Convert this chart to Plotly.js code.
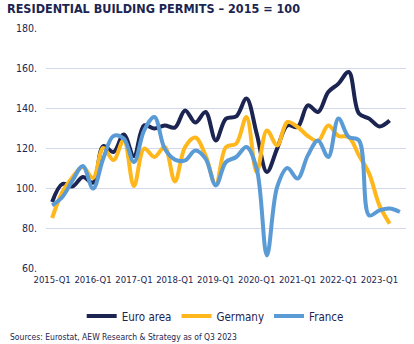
<!DOCTYPE html>
<html>
<head>
<meta charset="utf-8">
<script src="https://cdn.plot.ly/plotly-3.0.1.min.js"></script>
<style>
html,body{margin:0;padding:0;background:#fff;}
#chart{width:414px;height:344px;}
</style>
</head>
<body>
<div id="chart"></div>
<script>
// Quarters 2015-Q1 .. 2023-Q3
const quarters = [];
for (let y = 2015; y <= 2023; y++) {
  for (let q = 1; q <= 4; q++) {
    if (y === 2023 && q > 3) break;
    quarters.push(y + '-Q' + q);
  }
}
const tickLabels = ['2015-Q1','2016-Q1','2017-Q1','2018-Q1','2019-Q1','2020-Q1','2021-Q1','2022-Q1','2023-Q1'];
const yTicks = [60, 80, 100, 120, 140, 160, 180];

const euroArea = [93, 102, 100.8, 105.5, 102.7, 121, 118, 126.7, 116, 131.3, 129.7, 131.3, 130.2, 138.8, 132.7, 138, 123.8, 134.7, 135.8, 144.7, 127.2, 108, 119.7, 131.3, 130.5, 141.3, 138, 148, 152.2, 158, 137.2, 134.7, 130.8, 133.8];
const germany = [85, 98, 105.5, 110.5, 105, 120, 114, 124, 101, 119.7, 115.5, 120.5, 103.3, 120.5, 125.2, 116.3, 101.7, 120.5, 122.2, 135.5, 108, 128.8, 121.3, 133, 130.5, 126, 123.5, 131.3, 126, 125.5, 116.3, 107.2, 91.3, 82.2];
const france = [91.3, 95.5, 103.8, 111, 99.7, 114.7, 126, 124.7, 113, 128.8, 135.5, 119.7, 114.2, 113.8, 118.8, 114.7, 101.3, 113, 115.5, 120.5, 109.7, 66.3, 100.5, 110, 104.7, 116.3, 123.8, 115.5, 134.7, 125.5, 123.8, 86.3, 88.8, 89.7, 88];

const seriesNames = ['Euro area', 'Germany', 'France'];
const seriesData = [euroArea, germany, france];
const seriesColors = ['#1c2551', '#ffb71b', '#5b9bd5'];

const FONT = '"Liberation Sans Narrow", "DejaVu Sans Condensed", "Roboto Condensed", "Arial Narrow", sans-serif';
const TEXT = '#1c2551';

const traces = seriesNames.map((name, k) => ({
  type: 'scatter',
  mode: 'lines',
  name: name,
  x: quarters.slice(0, seriesData[k].length),
  y: seriesData[k],
  line: {color: seriesColors[k], width: 4, shape: 'spline', smoothing: 1},
  hoverinfo: 'skip'
}));

const layout = {
  width: 414,
  height: 344,
  margin: {l: 46, r: 8, t: 28, b: 76},
  paper_bgcolor: '#ffffff',
  plot_bgcolor: '#ffffff',
  font: {family: FONT, color: TEXT, size: 10},
  title: {
    text: '<b>RESIDENTIAL BUILDING PERMITS – 2015 = 100</b>',
    font: {family: FONT, size: 12.5, color: TEXT},
    x: 7 / 414, xref: 'container', xanchor: 'left',
    y: 1 - 9 / 344, yref: 'container', yanchor: 'middle'
  },
  xaxis: {
    type: 'category',
    range: [-0.6, 34.6],
    tickmode: 'array',
    tickvals: tickLabels,
    ticktext: tickLabels,
    tickangle: 0,
    showgrid: false,
    zeroline: false,
    showline: false,
    ticks: '',
    tickfont: {family: FONT, size: 9.5, color: TEXT},
    ticklabelstandoff: 4
  },
  yaxis: {
    range: [60, 180],
    tickmode: 'array',
    tickvals: yTicks,
    ticktext: yTicks.map(v => v + '.'),
    showgrid: true,
    gridcolor: '#d3d8ea',
    gridwidth: 1,
    zeroline: false,
    showline: false,
    ticks: '',
    tickfont: {family: FONT, size: 10.5, color: TEXT},
    ticklabelstandoff: 8
  },
  showlegend: true,
  legend: {
    orientation: 'h',
    x: 0.47, xanchor: 'center',
    y: -0.2, yanchor: 'middle',
    font: {family: FONT, size: 11.5, color: TEXT},
    itemwidth: 30,
    tracegroupgap: 0
  },
  annotations: [{
    text: 'Sources: Eurostat, AEW Research & Strategy as of Q3 2023',
    xref: 'paper', yref: 'paper',
    x: (8 - 46) / 360, y: -0.286,
    xanchor: 'left', yanchor: 'middle',
    showarrow: false,
    font: {family: FONT, size: 8.5, color: TEXT}
  }]
};

Plotly.newPlot('chart', traces, layout, {displayModeBar: false, staticPlot: true});
</script>
</body>
</html>
